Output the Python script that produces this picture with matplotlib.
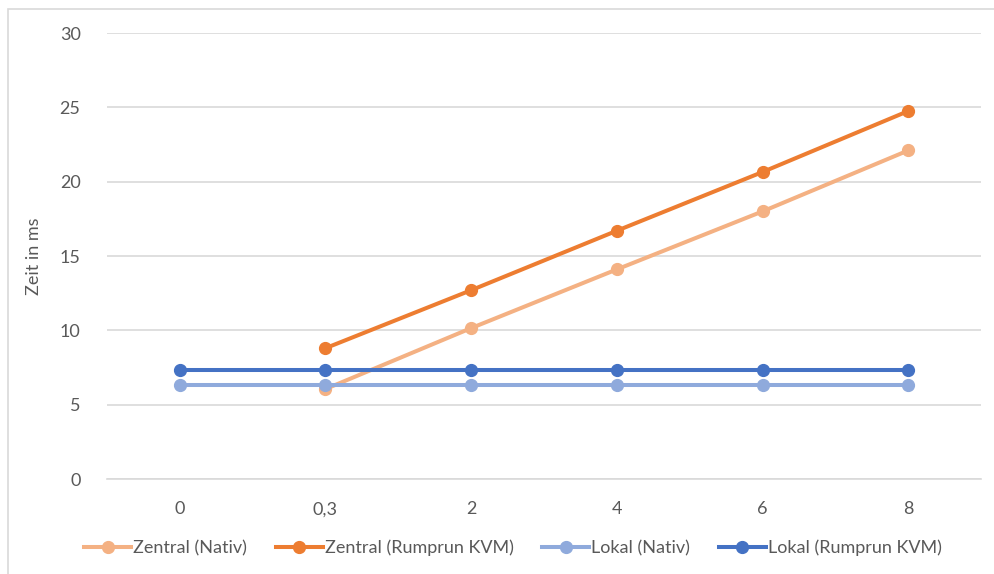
import numpy as np
import matplotlib.pyplot as plt
from matplotlib.patches import Rectangle

plt.rcParams['font.family'] = ['Lato', 'DejaVu Sans']

categories = ["0", "0,3", "2", "4", "6", "8"]
zentral_nativ = [np.nan, 6.05, 10.15, 14.1, 18.0, 22.1]
zentral_kvm = [np.nan, 8.8, 12.7, 16.7, 20.65, 24.75]
lokal_nativ = [6.32, 6.32, 6.32, 6.32, 6.32, 6.32]
lokal_kvm = [7.32, 7.32, 7.32, 7.32, 7.32, 7.32]

series = [
    ("Zentral (Nativ)", zentral_nativ, "#F4B183"),
    ("Zentral (Rumprun KVM)", zentral_kvm, "#ED7D31"),
    ("Lokal (Nativ)", lokal_nativ, "#8FAADC"),
    ("Lokal (Rumprun KVM)", lokal_kvm, "#4472C4"),
]

text_col = "#595959"
fig = plt.figure(figsize=(9.94, 5.74), dpi=100)
ax = fig.add_axes([0.1076, 0.1655, 0.8794, 0.777])

x = np.arange(len(categories))
for name, vals, col in series:
    ax.plot(x, vals, color=col, linewidth=2.9, marker="o", markersize=8.5,
            label=name, zorder=3)

ax.set_xlim(-0.5, len(categories) - 0.5)
ax.set_ylim(0, 30)
ax.set_yticks(np.arange(0, 31, 5))
ax.set_xticks(x)
ax.set_xticklabels(categories)
ax.grid(axis="y", color="#D9D9D9", linewidth=1.2)
ax.set_axisbelow(True)
for s in ["top", "right", "left"]:
    ax.spines[s].set_visible(False)
ax.spines["bottom"].set_color("#D9D9D9")
ax.spines["bottom"].set_linewidth(1.2)
ax.tick_params(length=0, labelsize=13, colors=text_col, pad=16)
ax.tick_params(axis="y", pad=19)
ax.set_ylabel("Zeit in ms", fontsize=13, color=text_col, labelpad=13)

fig.legend(loc="center", bbox_to_anchor=(0.516, 0.045), ncol=4, frameon=False,
           fontsize=13, labelcolor=text_col, handlelength=2.6, handletextpad=0.1,
           columnspacing=1.6)

fig.patches.append(Rectangle((8 / 994, -0.01), 1.0, 1 - 9 / 574 + 0.01,
                             transform=fig.transFigure, fill=False,
                             edgecolor="#D9D9D9", linewidth=1.2))

fig.savefig("out.png", dpi=100)
